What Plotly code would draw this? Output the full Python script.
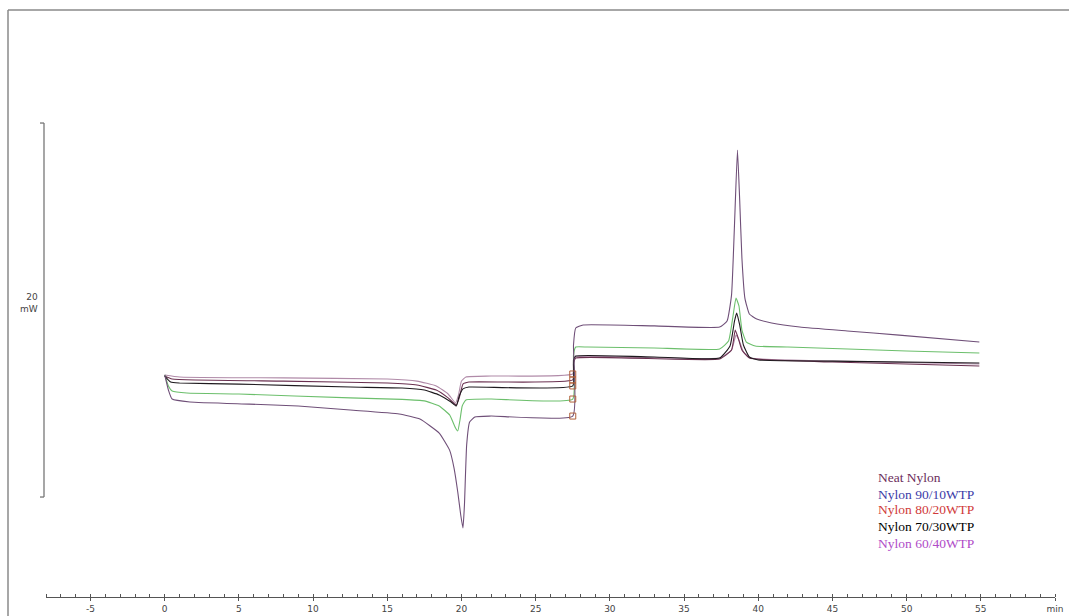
import plotly.graph_objects as go

# DSC heat-flow traces (time in min, heat flow in mW, arbitrary offset)
neat_t = [0, 1, 8, 15, 17, 18.3, 19.1, 19.6, 19.8, 20.0, 20.3, 22, 27.5, 27.55, 27.7,
          37.4, 38.2, 38.5, 38.7, 39.0, 39.5, 45, 54.9]
neat_mw = [12.09, 11.98, 11.93, 11.87, 11.76, 11.50, 11.07, 10.59, 11.02, 11.76, 11.98, 12.03, 12.14, 12.78, 13.05,
           12.99, 13.42, 14.22, 13.96, 13.32, 12.99, 12.83, 12.67]

wtp10_t = [0, 0.5, 8, 15, 17, 18.3, 19.1, 19.65, 19.85, 20.1, 20.5, 27.5, 27.55, 27.7,
           37.4, 38.2, 38.45, 38.65, 38.9, 39.4, 45, 54.9]
wtp10_mw = [12.03, 11.87, 11.76, 11.66, 11.55, 11.28, 10.86, 10.48, 10.86, 11.60, 11.71, 11.82, 12.67, 12.99,
            12.94, 13.42, 14.49, 14.06, 13.42, 12.99, 12.78, 12.57]

wtp20_t = [0, 0.25, 0.5, 1.5, 5, 12.5, 16, 17.5, 18.5, 19.2, 19.6, 19.75, 19.9, 20.05, 20.3, 22, 27.5,
           27.55, 27.7, 28.5, 33, 37.4, 38.0, 38.3, 38.5, 38.7, 38.9, 39.2, 39.8, 42, 50, 54.9]
wtp20_mw = [12.09, 11.50, 11.23, 11.12, 11.07, 10.86, 10.78, 10.70, 10.43, 9.95, 9.25, 9.09, 9.68, 10.43, 10.75, 10.80, 10.80,
            13.16, 13.58, 13.58, 13.53, 13.48, 13.90, 15.24, 16.20, 15.78, 14.49, 13.85, 13.64, 13.58, 13.37, 13.26]

wtp30_t = [0, 0.4, 1, 5, 12.5, 16, 17.5, 18.5, 19.3, 19.65, 19.85, 20.1, 20.5, 27.5, 27.55, 27.7,
           33, 37.4, 38.1, 38.4, 38.55, 38.75, 39.0, 39.4, 40, 45, 54.9]
wtp30_mw = [12.03, 11.71, 11.66, 11.60, 11.44, 11.39, 11.28, 11.02, 10.64, 10.43, 10.96, 11.34, 11.44, 11.50, 12.89, 13.10,
            13.05, 12.99, 13.64, 14.97, 15.40, 14.76, 13.69, 13.05, 12.89, 12.83, 12.73]

wtp40_t = [0, 0.25, 0.5, 1.7, 5.7, 9, 12.5, 15.8, 17.2, 18.5, 19.2, 19.5, 19.75, 19.95, 20.1, 20.2, 20.35,
           20.55, 20.9, 22, 27.5, 27.55, 27.7, 28.2, 33, 37.4, 37.9, 38.2, 38.4, 38.6, 38.75, 38.9, 39.1,
           39.4, 39.9, 40.9, 42.8, 46, 49.5, 54.9]
wtp40_mw = [12.09, 11.28, 10.80, 10.64, 10.53, 10.43, 10.21, 10.00, 9.73, 8.98, 8.07, 7.11, 5.83, 4.60, 3.90, 5.13, 8.34,
            9.57, 9.84, 9.89, 9.89, 13.69, 14.60, 14.76, 14.71, 14.65, 14.97, 16.36, 20.11, 24.12, 21.44, 18.34, 16.20,
            15.35, 15.08, 14.87, 14.65, 14.44, 14.22, 13.85]

series_names = ["Neat Nylon", "Nylon 90/10WTP", "Nylon 80/20WTP", "Nylon 70/30WTP", "Nylon 60/40WTP"]
series_t = [neat_t, wtp10_t, wtp20_t, wtp30_t, wtp40_t]
series_mw = [neat_mw, wtp10_mw, wtp20_mw, wtp30_mw, wtp40_mw]
line_colors = ["#b08aa8", "#6a3050", "#6cbf6c", "#1e1a1e", "#6f4f78"]
label_colors = ["#6b2d5b", "#3c3ca8", "#d03a3a", "#000000", "#b04cc8"]

# isothermal step time (end-of-segment markers)
step_time = 27.5

# time axis ticks
major_ticks = [-5, 0, 5, 10, 15, 20, 25, 30, 35, 40, 45, 50, 55, 60]
major_text = ["-5", "0", "5", "10", "15", "20", "25", "30", "35", "40", "45", "50", "55", "min"]

# heat-flow scale bar
scale_bar_mw = 20
scale_bar_bottom = 5.56

fig = go.Figure()

for name, t, mw, col in zip(series_names, series_t, series_mw, line_colors):
    fig.add_trace(go.Scatter(x=t, y=mw, mode="lines", name=name,
                             line=dict(color=col, width=1.1, shape="spline", smoothing=0.4),
                             showlegend=False))

# segment-end markers at the step
step_y = [mw[t.index(step_time)] for t, mw in zip(series_t, series_mw)]
fig.add_trace(go.Scatter(x=[step_time] * len(step_y), y=step_y, mode="markers",
                         marker=dict(symbol="square-open", size=6, color="#b0603a",
                                     line=dict(width=1)), showlegend=False))

L, R, T, B = 46, 14, 30, 19
W, H = 1069, 616
pw, ph = W - L - R, H - T - B
PX_PER_MW = 18.7
y_low = 4 / PX_PER_MW  # heat-flow value sitting on the time axis line


def px_x(px):
    return (px - L) / pw


def px_y(py):
    return (H - B - py) / ph


shapes = [
    # outer frame (left and top edges)
    dict(type="line", xref="paper", yref="paper", x0=px_x(8), x1=px_x(8), y0=px_y(10), y1=px_y(620),
         line=dict(color="#8a8a8a", width=1.5)),
    dict(type="line", xref="paper", yref="paper", x0=px_x(8), x1=px_x(1075), y0=px_y(10), y1=px_y(10),
         line=dict(color="#8a8a8a", width=1.5)),
    # scale bracket
    dict(type="line", xref="paper", yref="y", x0=px_x(44), x1=px_x(44),
         y0=scale_bar_bottom, y1=scale_bar_bottom + scale_bar_mw, line=dict(color="#777", width=1.3)),
    dict(type="line", xref="paper", yref="y", x0=px_x(40), x1=px_x(44),
         y0=scale_bar_bottom, y1=scale_bar_bottom, line=dict(color="#777", width=1.3)),
    dict(type="line", xref="paper", yref="y", x0=px_x(40), x1=px_x(44),
         y0=scale_bar_bottom + scale_bar_mw, y1=scale_bar_bottom + scale_bar_mw, line=dict(color="#777", width=1.3)),
]

annotations = [
    dict(xref="paper", yref="y", x=px_x(40), y=scale_bar_bottom + scale_bar_mw / 2 + 0.35,
         text=f"{scale_bar_mw}<br>mW", showarrow=False, xanchor="right", yanchor="middle", align="right",
         font=dict(family="DejaVu Sans", size=9, color="#444")),
]

legend_y = [6.63, 5.72, 4.87, 4.01, 3.10]
for name, col, ly in zip(series_names, label_colors, legend_y):
    annotations.append(dict(xref="paper", yref="y", x=px_x(876), y=ly, text=name, showarrow=False,
                            xanchor="left", yanchor="middle",
                            font=dict(family="Liberation Serif", size=13.5, color=col)))

fig.update_layout(
    width=W, height=H,
    margin=dict(l=L, r=R, t=T, b=B, autoexpand=False),
    plot_bgcolor="white", paper_bgcolor="white",
    shapes=shapes, annotations=annotations,
    xaxis=dict(range=[-8, 60], showgrid=False, zeroline=False, showline=True, automargin=False,
               linecolor="#555", linewidth=1,
               tickmode="array", tickvals=major_ticks, ticktext=major_text,
               ticks="outside", ticklen=3, tickcolor="#555",
               tickfont=dict(family="DejaVu Sans", size=9, color="#444"),
               minor=dict(dtick=1, ticks="inside", ticklen=3, tickcolor="#555")),
    yaxis=dict(range=[y_low, y_low + ph / PX_PER_MW], visible=False, automargin=False),
)

fig.write_html("out.html")
